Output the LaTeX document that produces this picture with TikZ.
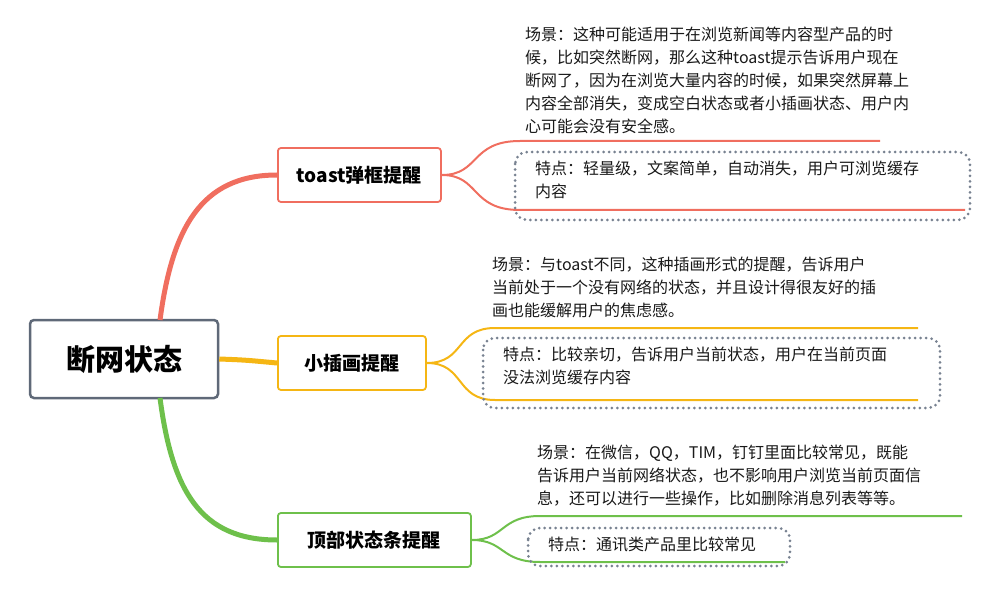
\documentclass[tikz,border=0pt]{standalone}
\usepackage{fontspec}
\setmainfont{Noto Sans CJK SC}
\definecolor{redb}{RGB}{240, 110, 95}
\definecolor{orab}{RGB}{245, 182, 20}
\definecolor{greb}{RGB}{110, 192, 75}
\definecolor{rootb}{RGB}{95, 105, 120}
\definecolor{dotb}{RGB}{120, 130, 145}
\tikzset{
  branch/.style={draw, line width=1.8pt, rounded corners=3pt, minimum height=54pt,
    font=\fontsize{19}{22}\selectfont\bfseries, inner xsep=4pt, anchor=west},
  note/.style={anchor=north west, align=left, inner sep=0pt,
    font=\fontsize{16}{23}\selectfont, text=black!90},
  dotbox/.style={draw=dotb, line width=3pt, line cap=round,
    dash pattern=on 0pt off 5.5pt, rounded corners=12pt},
  twig/.style={line width=2pt},
}
\begin{document}
\begin{tikzpicture}[x=1pt, y=-1pt]
  \useasboundingbox (0, 0) rectangle (1000, 601);

  \node[draw=rootb, line width=2.5pt, rounded corners=4pt, minimum width=188pt,
    minimum height=78pt, font=\fontsize{29}{32}\selectfont\bfseries]
    (root) at (124, 359) {断网状态};

  \node[branch, draw=redb, minimum width=163pt] (toast) at (277, 175) {toast弹框提醒};
  \node[branch, draw=orab, minimum width=148pt] (pic) at (277, 363) {小插画提醒};
  \node[branch, draw=greb, minimum width=193pt] (top) at (277, 540) {顶部状态条提醒};

  % main branches
  \draw[redb, line width=5pt] (160, 320) .. controls (172, 230) and (200, 175) .. (toast.west);
  \draw[orab, line width=5pt] (root.east) .. controls (245, 360) .. (pic.west);
  \draw[greb, line width=5pt] (160, 398) .. controls (172, 490) and (200, 540) .. (top.west);

  % toast
  \coordinate (t1) at (880, 141);
  \coordinate (t2) at (965, 210);
  \draw[redb, twig] (toast.east) .. controls (480, 175) and (470, 141) .. (520, 141) -- (t1);
  \draw[redb, twig] (toast.east) .. controls (480, 175) and (470, 210) .. (520, 210) -- (t2);
  \node[note] (s1) at (525, 27) {场景：这种可能适用于在浏览新闻等内容型产品的时\\候，比如突然断网，那么这种toast提示告诉用户现在\\断网了，因为在浏览大量内容的时候，如果突然屏幕上\\内容全部消失，变成空白状态或者小插画状态、用户内\\心可能会没有安全感。};
  \draw[dotbox] (515, 152) rectangle (970, 220);
  \node[note] (f1) at (535, 161) {特点：轻量级，文案简单，自动消失，用户可浏览缓存\\内容};

  % pic
  \coordinate (p1) at (918, 328);
  \coordinate (p2) at (918, 400);
  \draw[orab, twig] (pic.east) .. controls (465, 363) and (455, 328) .. (495, 328) -- (p1);
  \draw[orab, twig] (pic.east) .. controls (465, 363) and (455, 400) .. (495, 400) -- (p2);
  \node[note] (s2) at (492, 257) {场景：与toast不同，这种插画形式的提醒，告诉用户\\当前处于一个没有网络的状态，并且设计得很友好的插\\画也能缓解用户的焦虑感。};
  \draw[dotbox] (483, 338) rectangle (940, 408);
  \node[note] (f2) at (503, 347) {特点：比较亲切，告诉用户当前状态，用户在当前页面\\没法浏览缓存内容};

  % top
  \coordinate (g1) at (962, 516);
  \coordinate (g2) at (785, 562);
  \draw[greb, twig] (top.east) .. controls (505, 540) and (500, 516) .. (540, 516) -- (g1);
  \draw[greb, twig] (top.east) .. controls (505, 540) and (500, 562) .. (540, 562) -- (g2);
  \node[note] (s3) at (537, 445) {场景：在微信，QQ，TIM，钉钉里面比较常见，既能\\告诉用户当前网络状态，也不影响用户浏览当前页面信\\息，还可以进行一些操作，比如删除消息列表等等。};
  \draw[dotbox] (528, 528) rectangle (790, 566);
  \node[note] (f3) at (548, 537) {特点：通讯类产品里比较常见};
\end{tikzpicture}
\end{document}
